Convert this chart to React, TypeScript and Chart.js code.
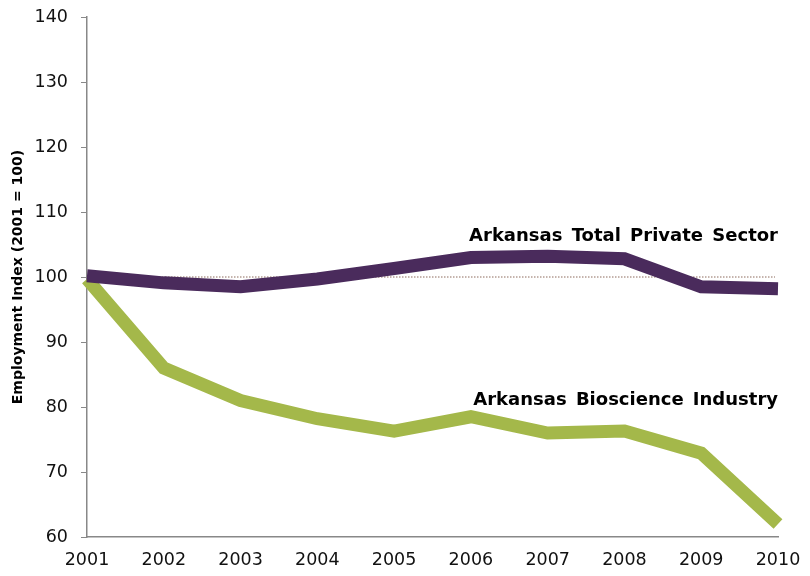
import React, { useEffect, useRef } from "react";
import { Chart, registerables } from "chart.js";

Chart.register(...registerables);

const years = ["2001", "2002", "2003", "2004", "2005", "2006", "2007", "2008", "2009", "2010"];
const privateSector = [100.2, 99.1, 98.5, 99.7, 101.3, 103.0, 103.2, 102.8, 98.5, 98.2];
const bioscience = [99.7, 86.0, 81.0, 78.2, 76.3, 78.5, 76.0, 76.3, 72.9, 62.0];
const baseline = 100;

const seriesLabels = ["Arkansas Total Private Sector", "Arkansas Bioscience Industry"];
const labelValues = [106.3, 81.1];

const FONT = "'DejaVu Sans', Verdana, sans-serif";

// dotted 100 line + right-aligned series captions
const overlayPlugin = {
  id: "overlay",
  beforeDatasetsDraw(chart: any) {
    const { ctx, chartArea, scales } = chart;
    const y = scales.y.getPixelForValue(baseline);
    ctx.save();
    ctx.strokeStyle = "#8c6b5c";
    ctx.lineWidth = 1;
    ctx.setLineDash([1.5, 1.5]);
    ctx.beginPath();
    ctx.moveTo(chartArea.left, y);
    ctx.lineTo(chartArea.right - 3, y);
    ctx.stroke();
    ctx.restore();
  },
  afterDatasetsDraw(chart: any) {
    const { ctx, chartArea, scales } = chart;
    ctx.save();
    ctx.fillStyle = "#000";
    ctx.font = `bold 18px ${FONT}`;
    ctx.textAlign = "right";
    ctx.textBaseline = "middle";
    (ctx as any).wordSpacing = "3px";
    seriesLabels.forEach((t, i) => {
      ctx.fillText(t, chartArea.right, scales.y.getPixelForValue(labelValues[i]));
    });
    ctx.restore();
  },
};

export default function App() {
  const canvasRef = useRef<HTMLCanvasElement>(null);
  const chartRef = useRef<Chart | null>(null);

  useEffect(() => {
    if (!canvasRef.current) return;
    if (chartRef.current) chartRef.current.destroy();

    chartRef.current = new Chart(canvasRef.current, {
      type: "line",
      data: {
        labels: years,
        datasets: [
          {
            label: seriesLabels[0],
            data: privateSector,
            borderColor: "#4a2b5c",
            borderWidth: 13,
            pointRadius: 0,
            tension: 0,
          },
          {
            label: seriesLabels[1],
            data: bioscience,
            borderColor: "#a4b84a",
            borderWidth: 13,
            pointRadius: 0,
            tension: 0,
          },
        ],
      },
      options: {
        animation: false,
        responsive: true,
        maintainAspectRatio: false,
        layout: { padding: { top: 17, right: 32, left: 0, bottom: 0 } },
        plugins: {
          legend: { display: false },
          tooltip: { enabled: false },
        },
        scales: {
          x: {
            offset: false,
            grid: { display: true, drawOnChartArea: false, drawTicks: false },
            border: { color: "#888", width: 1.5 },
            ticks: {
              color: "#111",
              font: { family: FONT, size: 17.5 },
              maxRotation: 0,
              padding: 13,
            },
            afterFit: (s: any) => {
              s.height = 39;
              s.paddingLeft = 0;
              s.paddingRight = 0;
            },
          },
          y: {
            min: 60,
            max: 140,
            ticks: {
              stepSize: 10,
              color: "#111",
              font: { family: FONT, size: 17.5 },
              padding: 13,
            },
            grid: { drawOnChartArea: false, tickLength: 6, color: "#888" },
            border: { color: "#888", width: 1.5 },
            title: {
              display: true,
              text: "Employment Index (2001 = 100)",
              color: "#000",
              font: { family: FONT, size: 14, weight: "bold" },
              padding: { top: 10, bottom: 0 },
            },
            afterFit: (s: any) => {
              s.width = 87;
              s.paddingTop = 0;
              s.paddingBottom = 0;
            },
          },
        },
      },
      plugins: [overlayPlugin],
    });

    return () => {
      if (chartRef.current) {
        chartRef.current.destroy();
        chartRef.current = null;
      }
    };
  }, []);

  return (
    <div style={{ position: "fixed", left: 0, top: 0, width: 810, height: 576, background: "#fff" }}>
      <canvas ref={canvasRef} />
    </div>
  );
}
